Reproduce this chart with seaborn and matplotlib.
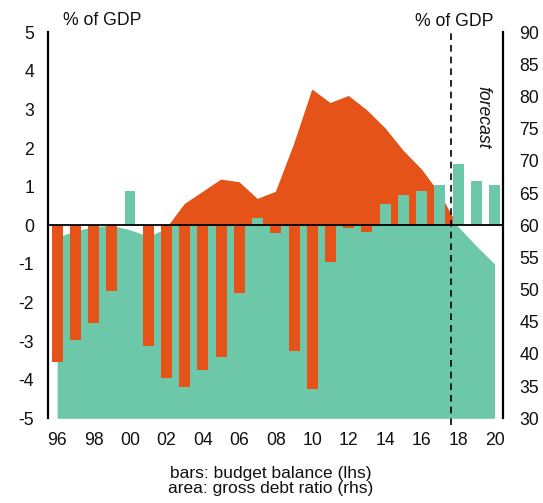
import numpy as np
import pandas as pd
import matplotlib
matplotlib.use("Agg")
import matplotlib.pyplot as plt
import seaborn as sns

years = list(range(1996, 2021))
budget_balance = [-3.55, -2.98, -2.53, -1.70, 0.88, -3.13, -3.95, -4.20, -3.75, -3.40,
                  -1.75, 0.20, -0.20, -3.25, -4.25, -0.95, -0.06, -0.17, 0.55, 0.78,
                  0.90, 1.05, 1.58, 1.16, 1.05]
debt_ratio = [58.2, 59.1, 59.8, 60.0, 59.3, 58.3, 59.5, 63.3, 65.2, 67.1,
              66.7, 64.1, 65.2, 72.6, 81.1, 79.0, 80.1, 77.9, 75.1, 71.6,
              68.7, 64.9, 59.8, 56.8, 54.0]
lhs_ticks = [-5, -4, -3, -2, -1, 0, 1, 2, 3, 4, 5]
rhs_ticks = [30, 35, 40, 45, 50, 55, 60, 65, 70, 75, 80, 85, 90]
xtick_years = list(range(1996, 2021, 2))
xtick_labels = ["96", "98", "00", "02", "04", "06", "08", "10", "12", "14", "16", "18", "20"]
forecast_start = 2017.6

ORANGE = "#E65319"
GREEN = "#6CC8A9"

sns.set_theme(style="white")
plt.rcParams["font.family"] = ["Liberation Sans", "DejaVu Sans"]
plt.rcParams["axes.unicode_minus"] = False

fig = plt.figure(figsize=(5.43, 5.03), dpi=100)
ax = fig.add_axes([0.0884, 0.1684, 0.8374, 0.7674])
ax2 = ax.twinx()

# area on rhs
x = np.array(years, dtype=float)
d = np.array(debt_ratio)
ax2.fill_between(x, 30, d, color=GREEN, linewidth=0)
ax2.fill_between(x, 60, d, where=d >= 60, interpolate=True, color=ORANGE, linewidth=0)
ax2.set_ylim(30, 90)
ax2.set_yticks(rhs_ticks)

# bars on lhs
df = pd.DataFrame({"year": years, "balance": budget_balance})
df["sign"] = np.where(df["balance"] >= 0, "pos", "neg")
sns.barplot(data=df, x="year", y="balance", hue="sign", palette={"pos": GREEN, "neg": ORANGE},
            native_scale=True, width=0.6, dodge=False, legend=False, saturation=1,
            linewidth=0, ax=ax)
ax.set_zorder(ax2.get_zorder() + 1)
ax.patch.set_visible(False)

ax.set_ylim(-5, 5)
ax.set_yticks(lhs_ticks)
ax.set_xlim(1995.5, 2020.45)
ax.set_xticks(xtick_years)
ax.set_xticklabels(xtick_labels)
ax.set_xlabel("")
ax.set_ylabel("")

ax.axhline(0, color="black", lw=1.3, zorder=5)
ax.axvline(forecast_start, ymin=-0.018, ymax=1.0, color="black", lw=1.2,
           ls=(0, (4, 3)), clip_on=False, zorder=6)

for a in (ax, ax2):
    for s in ("top", "bottom", "left", "right"):
        a.spines[s].set_visible(False)
ax.spines["left"].set_visible(True)
ax.spines["left"].set_color("black")
ax.spines["left"].set_linewidth(1.6)
ax2.spines["right"].set_visible(True)
ax2.spines["right"].set_color("black")
ax2.spines["right"].set_linewidth(1.6)

FS = 12.7
ax.tick_params(axis="y", length=0, pad=10, labelsize=FS, colors="#111111")
ax.tick_params(axis="x", length=0, pad=10, labelsize=FS, colors="#111111")
ax2.tick_params(axis="y", length=0, pad=12, labelsize=FS, colors="#111111")
ax.grid(False)
ax2.grid(False)

ax.text(2019.36, 2.8, "forecast", rotation=270, style="italic", fontsize=FS,
        ha="center", va="center", color="#111111")

fig.text(0.189, 0.96, "% of GDP", ha="center", va="center", fontsize=FS, color="#111111")
fig.text(0.837, 0.958, "% of GDP", ha="center", va="center", fontsize=FS, color="#111111")
fig.text(0.498, 0.043, "bars: budget balance (lhs)\narea: gross debt ratio (rhs)",
         ha="center", va="center", fontsize=12.5, linespacing=1.0, color="#111111")

fig.savefig("out.png", dpi=100)
